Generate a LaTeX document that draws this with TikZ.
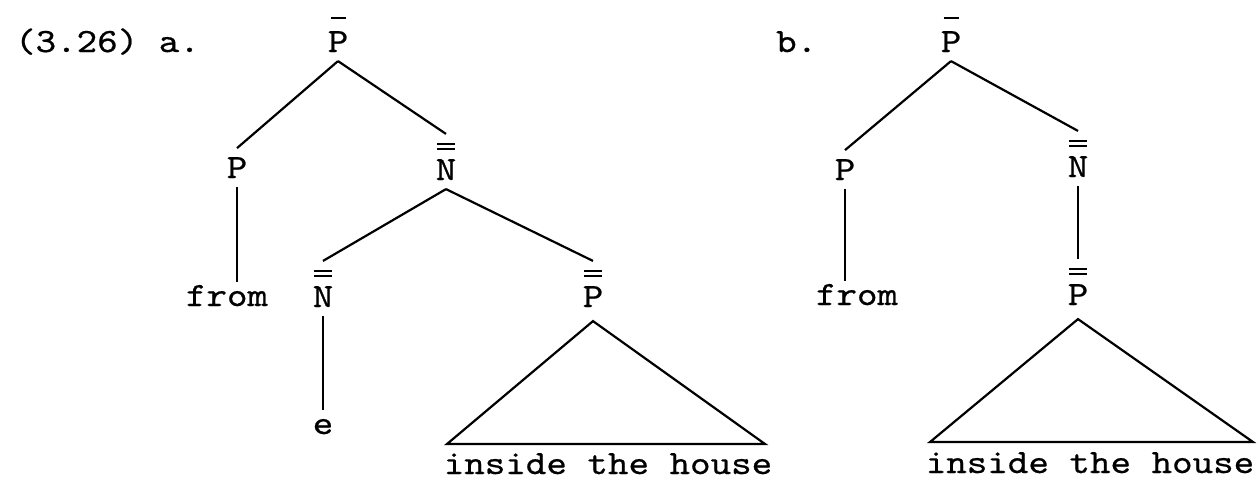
\documentclass[tikz,border=0pt]{standalone}
\usepackage{fontspec}
\setmainfont{lmmono10-regular.otf}[FakeStretch=1.15,FakeBold=0.6]

% bars over the category letters
\newcommand{\barone}[1]{\vbox{\offinterlineskip
  \hbox to 20pt{\hss\rule{15pt}{2.6pt}\hss}\kern12pt
  \hbox to 20pt{\hss#1\hss}}}
\newcommand{\bartwo}[1]{\vbox{\offinterlineskip
  \hbox to 20pt{\hss\rule{18pt}{2.4pt}\hss}\kern2.4pt
  \hbox to 20pt{\hss\rule{18pt}{2.4pt}\hss}\kern9pt
  \hbox to 20pt{\hss#1\hss}}}

\begin{document}
\begin{tikzpicture}[x=1pt, y=-1pt, line width=2.2pt,
    every node/.style={anchor=base, font=\fontsize{34}{40}\selectfont},
    cat/.style={inner xsep=2pt, inner ysep=8pt},
    word/.style={inner sep=2pt}]
    \useasboundingbox (0,0) rectangle (1258,480);

    % Labels
    \node[word, anchor=base west] (numa) at (12,52) {(3.26) a.};
    \node[word, anchor=base west] (numb) at (773,52) {b.};

    % Tree a
    \node[cat] (atop) at (338,52) {\barone{P}};
    \node[cat] (ap) at (237,178) {P};
    \node[cat] (anbar) at (446,180) {\bartwo{N}};
    \node[word] (afrom) at (227,306) {from};
    \node[cat] (anlow) at (323,307) {\bartwo{N}};
    \node[cat] (apbar) at (593,307) {\bartwo{P}};
    \node[cat] (ae) at (323,434) {e};
    \node[word] (ahouse) at (608,474) {inside the house};
    \coordinate (atl) at (447,444);
    \coordinate (atr) at (765,444);

    \draw (atop.south) -- (ap.north);
    \draw (atop.south) -- (anbar.north);
    \draw (ap.south) -- (ap.south |- afrom.north);
    \draw (anbar.south) -- (anlow.north);
    \draw (anbar.south) -- (apbar.north);
    \draw (anlow.south) -- (ae.north);
    \draw ([yshift=-5pt]apbar.south) -- (atl) -- (atr) -- cycle;

    % Tree b
    \node[cat] (btop) at (951,52) {\barone{P}};
    \node[cat] (bp) at (845,180) {P};
    \node[cat] (bnbar) at (1078,177) {\bartwo{N}};
    \node[word] (bfrom) at (857,305) {from};
    \node[cat] (bpbar) at (1078,305) {\bartwo{P}};
    \node[word] (bhouse) at (1090,473) {inside the house};
    \coordinate (btl) at (930,442);
    \coordinate (btr) at (1253,442);

    \draw (btop.south) -- (bp.north);
    \draw (btop.south) -- (bnbar.north);
    \draw (bp.south) -- (bp.south |- bfrom.north);
    \draw (bnbar.south) -- (bpbar.north);
    \draw ([yshift=-5pt]bpbar.south) -- (btl) -- (btr) -- cycle;
\end{tikzpicture}
\end{document}
